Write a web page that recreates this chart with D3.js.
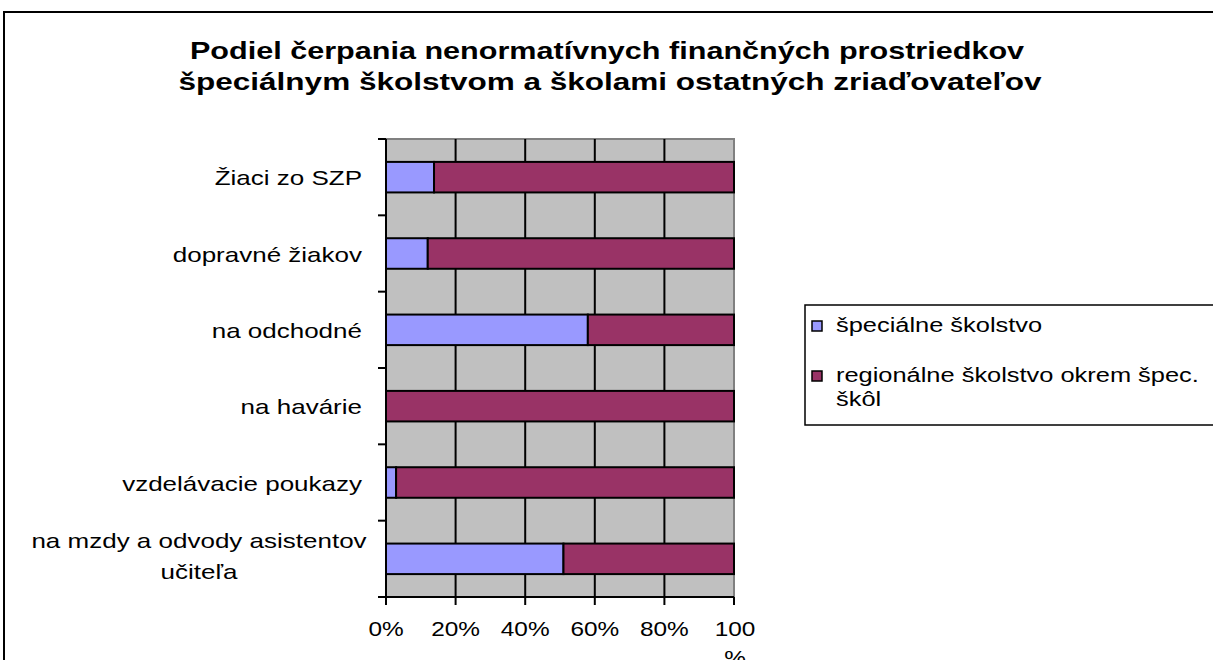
<!DOCTYPE html>
<html>
<head>
<meta charset="utf-8">
<script src="https://cdn.jsdelivr.net/npm/d3@7"></script>
<style>
  body { margin: 0; background: #fff; }
  svg { display: block; font-family: "Liberation Sans", Arial, sans-serif; }
</style>
</head>
<body>
<svg width="1213" height="660"></svg>
<script>
// categories top to bottom
const categories = [
  'Žiaci zo SZP',
  'dopravné žiakov',
  'na odchodné',
  'na havárie',
  'vzdelávacie poukazy',
  'na mzdy a odvody asistentov učiteľa'
];
const categoryLines = [
  ['Žiaci zo SZP'],
  ['dopravné žiakov'],
  ['na odchodné'],
  ['na havárie'],
  ['vzdelávacie poukazy'],
  ['na mzdy a odvody asistentov', 'učiteľa']
];
// share in %
const specialne = [13.8, 12.0, 58.0, 0.0, 2.9, 51.0];
const regionalne = [86.2, 88.0, 42.0, 100.0, 97.1, 49.0];

const seriesNames = ['špeciálne školstvo', 'regionálne školstvo okrem špec. škôl'];
const legendLines = [['špeciálne školstvo'], ['regionálne školstvo okrem špec.', 'škôl']];
const seriesColors = ['#9999FF', '#993366'];
const xTicks = [0, 20, 40, 60, 80, 100];

const svg = d3.select('svg');

// the original chart text is wide, so stretch it horizontally
function wideText(parent, x, y, str, size, sx, anchor, bold) {
  return parent.append('text')
    .attr('transform', `translate(${x},${y}) scale(${sx},1)`)
    .attr('text-anchor', anchor || 'start')
    .attr('font-size', size)
    .attr('font-weight', bold ? 'bold' : null)
    .attr('fill', '#000')
    .text(str);
}

// outer chart border (runs off the right and bottom)
svg.append('rect')
  .attr('x', 4).attr('y', 12)
  .attr('width', 1230).attr('height', 680)
  .attr('fill', '#fff')
  .attr('stroke', '#000')
  .attr('stroke-width', 2);

// title
wideText(svg, 607, 59, 'Podiel čerpania nenormatívnych finančných prostriedkov', 23, 1.33, 'middle', true);
wideText(svg, 610, 90, 'špeciálnym školstvom a školami ostatných zriaďovateľov', 23, 1.37, 'middle', true);

const plot = { left: 386, right: 734, top: 139, bottom: 597 };

const x = d3.scaleLinear().domain([0, 100]).range([plot.left, plot.right]);
const y = d3.scaleBand().domain(categories)
  .range([plot.top, plot.bottom])
  .paddingInner(0.6).paddingOuter(0.3);

// plot background
svg.append('rect')
  .attr('x', plot.left).attr('y', plot.top)
  .attr('width', plot.right - plot.left).attr('height', plot.bottom - plot.top)
  .attr('fill', '#C0C0C0')
  .attr('stroke', '#808080')
  .attr('stroke-width', 2);

// vertical gridlines
svg.append('g')
  .selectAll('line')
  .data(xTicks.slice(1, -1))
  .join('line')
  .attr('x1', d => x(d)).attr('x2', d => x(d))
  .attr('y1', plot.top).attr('y2', plot.bottom)
  .attr('stroke', '#000')
  .attr('stroke-width', 2);

// stacked bars
const stacked = d3.stack().keys([0, 1])
  .value((d, k) => k === 0 ? specialne[d] : regionalne[d])(d3.range(categories.length));

svg.append('g')
  .selectAll('g')
  .data(stacked)
  .join('g')
  .attr('fill', (d, i) => seriesColors[i])
  .selectAll('rect')
  .data(d => d.map((v, i) => ({ v, cat: categories[i] })))
  .join('rect')
  .attr('x', d => x(d.v[0]))
  .attr('width', d => x(d.v[1]) - x(d.v[0]))
  .attr('y', d => y(d.cat))
  .attr('height', y.bandwidth())
  .attr('stroke', '#000')
  .attr('stroke-width', 2);

// left axis
svg.append('line')
  .attr('x1', plot.left).attr('x2', plot.left)
  .attr('y1', plot.top).attr('y2', plot.bottom)
  .attr('stroke', '#000').attr('stroke-width', 2);
const step = y.step();
svg.append('g')
  .selectAll('line')
  .data(d3.range(categories.length + 1))
  .join('line')
  .attr('x1', plot.left - 8).attr('x2', plot.left)
  .attr('y1', i => plot.top + i * step).attr('y2', i => plot.top + i * step)
  .attr('stroke', '#000').attr('stroke-width', 2);

const yLabels = svg.append('g');
categories.forEach((c, i) => {
  const lines = categoryLines[i];
  const cy = y(c) + y.bandwidth() / 2;
  if (lines.length === 1) {
    wideText(yLabels, 362, cy + 8, lines[0], 20, 1.3, 'end');
  } else {
    lines.forEach((l, j) => {
      wideText(yLabels, 199, cy - 11 + j * 31, l, 20, 1.3, 'middle');
    });
  }
});

// bottom axis
svg.append('line')
  .attr('x1', plot.left).attr('x2', plot.right)
  .attr('y1', plot.bottom).attr('y2', plot.bottom)
  .attr('stroke', '#000').attr('stroke-width', 2);
svg.append('g')
  .selectAll('line')
  .data(xTicks)
  .join('line')
  .attr('x1', d => x(d)).attr('x2', d => x(d))
  .attr('y1', plot.bottom).attr('y2', plot.bottom + 8)
  .attr('stroke', '#000').attr('stroke-width', 2);
const xLabels = svg.append('g');
xTicks.forEach(d => {
  if (d === 100) {
    wideText(xLabels, x(d) + 1, 636, '100', 20, 1.22, 'middle');
    wideText(xLabels, x(d) + 1, 665, '%', 20, 1.22, 'middle');
  } else {
    wideText(xLabels, x(d), 636, d + '%', 20, 1.22, 'middle');
  }
});

// legend
const legend = svg.append('g');
legend.append('rect')
  .attr('x', 805).attr('y', 305)
  .attr('width', 420).attr('height', 120)
  .attr('fill', '#fff')
  .attr('stroke', '#000')
  .attr('stroke-width', 1.5);
const legendBase = [332, 382];
legendLines.forEach((lines, i) => {
  legend.append('rect')
    .attr('x', 812).attr('y', legendBase[i] - 11)
    .attr('width', 10).attr('height', 10)
    .attr('fill', seriesColors[i])
    .attr('stroke', '#000').attr('stroke-width', 1.5);
  lines.forEach((l, j) => {
    wideText(legend, 836, legendBase[i] + j * 24, l, 20, 1.27, 'start');
  });
});
</script>
</body>
</html>
